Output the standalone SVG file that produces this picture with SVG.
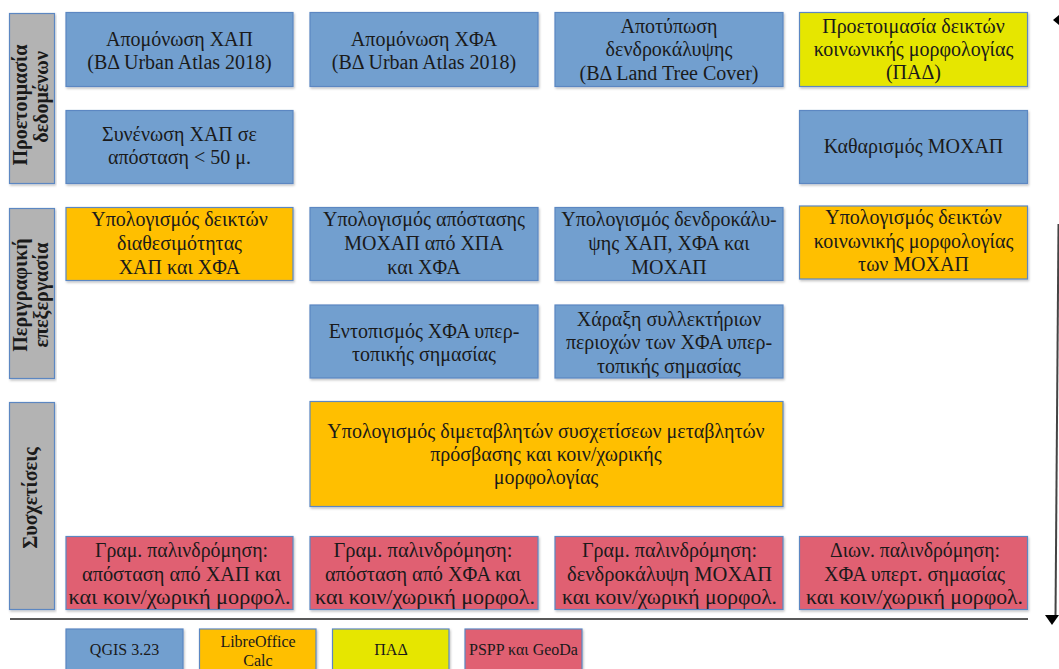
<svg xmlns="http://www.w3.org/2000/svg" width="1059" height="669" viewBox="0 0 1059 669">
<style>
  .bx { stroke: #5b87c2; stroke-width: 1.2; filter: url(#sh); }
  .blue { fill: #729fcf; }
  .orange { fill: #ffbf00; }
  .yellow { fill: #e6e600; }
  .red { fill: #e06072; }
  .gray { fill: #b3b3b3; }
  text { font-family: "Liberation Serif", "Times New Roman", serif; fill: #1a1a1a; text-anchor: middle; }
  .t { font-size: 20px; }
  .r { font-size: 21px; }
  .lab { font-size: 20px; font-weight: bold; }
  .lg { font-size: 16px; }
</style>
<defs>
  <filter id="sh" x="-5%" y="-5%" width="110%" height="115%">
    <feDropShadow dx="1" dy="1.5" stdDeviation="0.8" flood-color="#000" flood-opacity="0.25"/>
  </filter>
</defs>
<rect width="1059" height="669" fill="#ffffff"/>

<!-- Phase labels -->
<g id="phase-prep">
  <rect class="bx gray" x="9.5" y="13.5" width="45" height="170"/>
  <text class="lab" transform="translate(27,105) rotate(-90)">Προετοιμασία</text>
  <text class="lab" transform="translate(48,97) rotate(-90)">δεδομένων</text>
</g>
<g id="phase-desc">
  <rect class="bx gray" x="9.5" y="208.5" width="45" height="170"/>
  <text class="lab" transform="translate(27,295) rotate(-90)">Περιγραφική</text>
  <text class="lab" transform="translate(48,295) rotate(-90)">επεξεργασία</text>
</g>
<g id="phase-corr">
  <rect class="bx gray" x="9.5" y="402.5" width="45" height="207"/>
  <text class="lab" transform="translate(37,498) rotate(-90)">Συσχετίσεις</text>
</g>

<!-- Row 1 -->
<g id="n-iso-xap">
  <rect class="bx blue" x="66" y="12.5" width="227" height="74"/>
  <text class="t" x="179.5" y="46">Απομόνωση ΧΑΠ</text>
  <text class="t" x="179.5" y="69">(ΒΔ Urban Atlas 2018)</text>
</g>
<g id="n-iso-xfa">
  <rect class="bx blue" x="310" y="12.5" width="228" height="74"/>
  <text class="t" x="424" y="46">Απομόνωση ΧΦΑ</text>
  <text class="t" x="424" y="69">(ΒΔ Urban Atlas 2018)</text>
</g>
<g id="n-tree">
  <rect class="bx blue" x="555" y="12.5" width="228" height="74"/>
  <text class="t" x="669" y="33">Αποτύπωση</text>
  <text class="t" x="669" y="56">δενδροκάλυψης</text>
  <text class="t" x="669" y="80">(ΒΔ Land Tree Cover)</text>
</g>
<g id="n-social-prep">
  <rect class="bx yellow" x="799.5" y="12.5" width="228" height="74"/>
  <text class="t" x="913.5" y="33">Προετοιμασία δεικτών</text>
  <text class="t" x="913.5" y="56">κοινωνικής μορφολογίας</text>
  <text class="t" x="913.5" y="79">(ΠΑΔ)</text>
</g>

<!-- Row 2 -->
<g id="n-merge">
  <rect class="bx blue" x="66" y="110.5" width="227" height="73"/>
  <text class="t" x="179.5" y="141">Συνένωση ΧΑΠ σε</text>
  <text class="t" x="179.5" y="164">απόσταση &lt; 50 μ.</text>
</g>
<g id="n-clean">
  <rect class="bx blue" x="799.5" y="110.5" width="228" height="73"/>
  <text class="t" x="913.5" y="153">Καθαρισμός ΜΟΧΑΠ</text>
</g>

<!-- Row 3 -->
<g id="n-avail">
  <rect class="bx orange" x="66" y="207.5" width="227" height="73"/>
  <text class="t" x="179.5" y="226">Υπολογισμός δεικτών</text>
  <text class="t" x="179.5" y="250">διαθεσιμότητας</text>
  <text class="t" x="179.5" y="274">ΧΑΠ και ΧΦΑ</text>
</g>
<g id="n-dist">
  <rect class="bx blue" x="310" y="207.5" width="228" height="73"/>
  <text class="t" x="424" y="226">Υπολογισμός απόστασης</text>
  <text class="t" x="424" y="250">ΜΟΧΑΠ από ΧΠΑ</text>
  <text class="t" x="424" y="274">και ΧΦΑ</text>
</g>
<g id="n-treecalc">
  <rect class="bx blue" x="555" y="207.5" width="228" height="73"/>
  <text class="t" x="669" y="226">Υπολογισμός δενδροκάλυ-</text>
  <text class="t" x="669" y="250">ψης ΧΑΠ, ΧΦΑ και</text>
  <text class="t" x="669" y="274">ΜΟΧΑΠ</text>
</g>
<g id="n-social-calc">
  <rect class="bx orange" x="799.5" y="206" width="228" height="73"/>
  <text class="t" x="913.5" y="224">Υπολογισμός δεικτών</text>
  <text class="t" x="913.5" y="248">κοινωνικής μορφολογίας</text>
  <text class="t" x="913.5" y="271">των ΜΟΧΑΠ</text>
</g>

<!-- Row 4 -->
<g id="n-supra">
  <rect class="bx blue" x="310" y="305" width="228" height="73"/>
  <text class="t" x="424" y="338">Εντοπισμός ΧΦΑ υπερ-</text>
  <text class="t" x="424" y="361">τοπικής σημασίας</text>
</g>
<g id="n-catch">
  <rect class="bx blue" x="555" y="305" width="228" height="73"/>
  <text class="t" x="669" y="326">Χάραξη συλλεκτήριων</text>
  <text class="t" x="669" y="349">περιοχών των ΧΦΑ υπερ-</text>
  <text class="t" x="669" y="373">τοπικής σημασίας</text>
</g>

<!-- Big box -->
<g id="n-bivariate">
  <rect class="bx orange" x="310" y="401.5" width="473" height="105"/>
  <text class="t" x="546" y="438">Υπολογισμός διμεταβλητών συσχετίσεων μεταβλητών</text>
  <text class="t" x="546" y="461">πρόσβασης και κοιν/χωρικής</text>
  <text class="t" x="546" y="484">μορφολογίας</text>
</g>

<!-- Regression row -->
<g id="n-reg1">
  <rect class="bx red" x="66" y="536.5" width="227" height="73"/>
  <text class="r" x="181.5" y="557" textLength="173" lengthAdjust="spacingAndGlyphs">Γραμ. παλινδρόμηση:</text>
  <text class="r" x="181.5" y="581" textLength="199" lengthAdjust="spacingAndGlyphs">απόσταση από ΧΑΠ και</text>
  <text class="r" x="179.5" y="604" textLength="222" lengthAdjust="spacingAndGlyphs">και κοιν/χωρική μορφολ.</text>
</g>
<g id="n-reg2">
  <rect class="bx red" x="310" y="536.5" width="228" height="73"/>
  <text class="r" x="423" y="557" textLength="179" lengthAdjust="spacingAndGlyphs">Γραμ. παλινδρόμηση:</text>
  <text class="r" x="423" y="581" textLength="196" lengthAdjust="spacingAndGlyphs">απόσταση από ΧΦΑ και</text>
  <text class="r" x="425" y="604" textLength="220" lengthAdjust="spacingAndGlyphs">και κοιν/χωρική μορφολ.</text>
</g>
<g id="n-reg3">
  <rect class="bx red" x="555" y="536.5" width="228" height="73"/>
  <text class="r" x="669.5" y="557" textLength="175" lengthAdjust="spacingAndGlyphs">Γραμ. παλινδρόμηση:</text>
  <text class="r" x="669.5" y="581" textLength="205" lengthAdjust="spacingAndGlyphs">δενδροκάλυψη ΜΟΧΑΠ</text>
  <text class="r" x="669.5" y="604" textLength="215" lengthAdjust="spacingAndGlyphs">και κοιν/χωρική μορφολ.</text>
</g>
<g id="n-reg4">
  <rect class="bx red" x="799.5" y="536.5" width="228" height="73"/>
  <text class="r" x="915" y="557" textLength="170" lengthAdjust="spacingAndGlyphs">Διων. παλινδρόμηση:</text>
  <text class="r" x="914.5" y="581" textLength="181" lengthAdjust="spacingAndGlyphs">ΧΦΑ υπερτ. σημασίας</text>
  <text class="r" x="914.5" y="604" textLength="217" lengthAdjust="spacingAndGlyphs">και κοιν/χωρική μορφολ.</text>
</g>

<!-- Connectors / rules -->
<g id="connectors">
  <line x1="10" y1="619" x2="1028" y2="619" stroke="#222" stroke-width="1.5"/>
  <line x1="1058.5" y1="224" x2="1055.5" y2="616" stroke="#444" stroke-width="2"/>
  <polygon points="1045,615 1059,615 1052,625" fill="#000"/>
  <polygon points="1053,20 1059,15 1059,25" fill="#000"/>
</g>

<!-- Legend -->
<g id="legend-qgis">
  <rect class="bx blue" x="66" y="629" width="117" height="45"/>
  <text class="lg" x="124.5" y="655">QGIS 3.23</text>
</g>
<g id="legend-calc">
  <rect class="bx orange" x="199.5" y="629" width="116.5" height="45"/>
  <text class="lg" x="258" y="647">LibreOffice</text>
  <text class="lg" x="258" y="666">Calc</text>
</g>
<g id="legend-pad">
  <rect class="bx yellow" x="332.5" y="629" width="116.5" height="45"/>
  <text class="lg" x="391" y="655">ΠΑΔ</text>
</g>
<g id="legend-pspp">
  <rect class="bx red" x="465" y="629" width="117" height="45"/>
  <text class="lg" x="523.5" y="655">PSPP και GeoDa</text>
</g>
</svg>
